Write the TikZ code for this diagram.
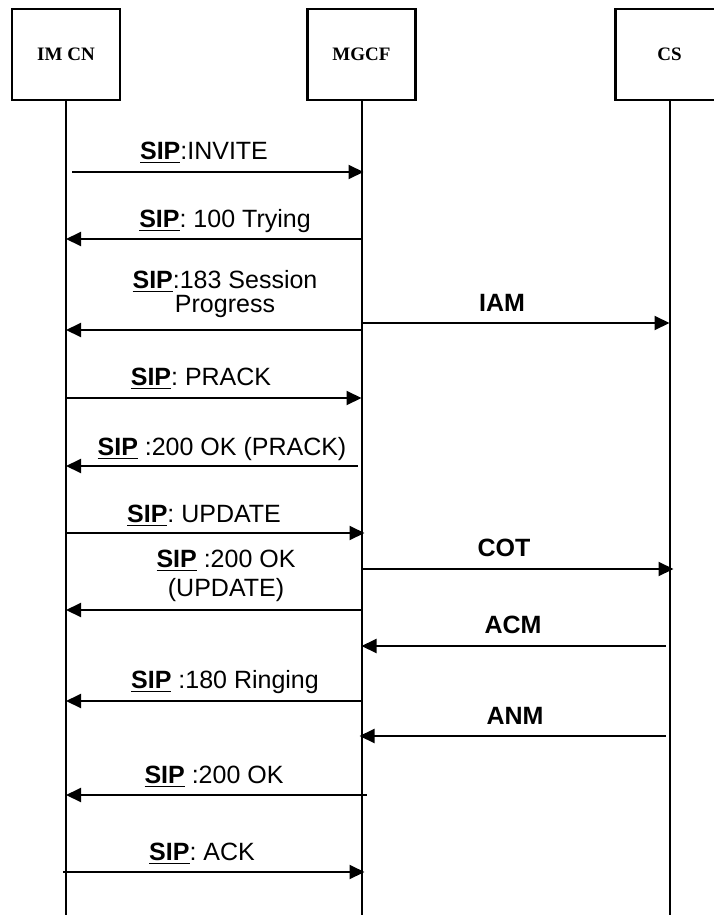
\documentclass[tikz,border=0pt]{standalone}
\usepackage{fontspec}
\setmainfont{Liberation Serif}
\setsansfont{Liberation Sans}
\usetikzlibrary{arrows.meta}
\newcommand{\sip}{\underline{\textbf{SIP}}}
\frenchspacing

\begin{document}
\begin{tikzpicture}[x=0.5pt, y=-0.5pt, >={Triangle[length=7.5pt, width=7pt]},
      ent/.style={draw, line width=1.2pt, minimum width=54pt, minimum height=45.5pt,
        font=\rmfamily\bfseries\fontsize{9.5}{11}\selectfont},
      life/.style={line width=1pt},
      msg/.style={->, line width=1pt},
      lbl/.style={anchor=base, inner sep=0pt, align=center, font=\sffamily\fontsize{12.5}{10}\selectfont},
      sig/.style={lbl, font=\sffamily\bfseries\fontsize{12.5}{10}\selectfont}]
    \useasboundingbox (0,0) rectangle (713,915);
    % entities and lifelines
    \node[ent] (imcn) at (66,54.5) {IM CN};
    \node[ent] (mgcf) at (361.5,54.5) {MGCF};
    \node[ent] (cs) at (669.5,54.5) {CS};
    \coordinate (bot) at (0,915);
    \draw[life] (imcn.south) -- (imcn |- bot);
    \draw[life] (mgcf.south) -- (mgcf |- bot);
    \draw[life] (cs.south) -- (cs |- bot);
    % message rows
    \coordinate (r1) at (0,172);
    \coordinate (r2) at (0,239);
    \coordinate (r3) at (0,330);
    \coordinate (r3b) at (0,323);
    \coordinate (r4) at (0,398);
    \coordinate (r5) at (0,466);
    \coordinate (r6) at (0,533);
    \coordinate (r7) at (0,610);
    \coordinate (r7b) at (0,569);
    \coordinate (r8) at (0,646);
    \coordinate (r9) at (0,701);
    \coordinate (r10) at (0,736);
    \coordinate (r11) at (0,795);
    \coordinate (r12) at (0,872);
    % labels (base of two-line labels = last line)
    \node[lbl] (invite) at (204,159) {\sip:INVITE};
    \node[lbl] (trying) at (225,227) {\sip: 100 Trying};
    \node[lbl] (prog) at (225,312) {\sip:183 Session\\Progress};
    \node[sig] (iam) at (502,311) {IAM};
    \node[lbl] (prack) at (201,385) {\sip: PRACK};
    \node[lbl] (okprack) at (222,455) {\sip\ :200 OK (PRACK)};
    \node[lbl] (update) at (204,522) {\sip: UPDATE};
    \node[lbl] (okupdate) at (226,596) {\sip\ :200 OK\\[2pt](UPDATE)};
    \node[sig] (cot) at (504,556) {COT};
    \node[sig] (acm) at (513,633) {ACM};
    \node[lbl] (ringing) at (225,688) {\sip\ :180 Ringing};
    \node[sig] (anm) at (515,724) {ANM};
    \node[lbl] (ok) at (214,783) {\sip\ :200 OK};
    \node[lbl] (ack) at (202,860) {\sip: ACK};
    % arrows
    \draw[msg] ([xshift=3pt]imcn |- r1) -- ([xshift=1pt]mgcf |- r1);
    \draw[msg] (mgcf |- r2) -- (imcn |- r2);
    \draw[msg] (mgcf |- r3) -- (imcn |- r3);
    \draw[msg] (mgcf |- r3b) -- (cs |- r3b);
    \draw[msg] (imcn |- r4) -- (mgcf |- r4);
    \draw[msg] ([xshift=-2pt]mgcf |- r5) -- (imcn |- r5);
    \draw[msg] (imcn |- r6) -- ([xshift=1.5pt]mgcf |- r6);
    \draw[msg] (mgcf |- r7) -- (imcn |- r7);
    \draw[msg] (mgcf |- r7b) -- ([xshift=2pt]cs |- r7b);
    \draw[msg] ([xshift=-2pt]cs |- r8) -- (mgcf |- r8);
    \draw[msg] (mgcf |- r9) -- (imcn |- r9);
    \draw[msg] ([xshift=-2pt]cs |- r10) -- ([xshift=-1pt]mgcf |- r10);
    \draw[msg] ([xshift=2.5pt]mgcf |- r11) -- (imcn |- r11);
    \draw[msg] ([xshift=-1.5pt]imcn |- r12) -- ([xshift=1.5pt]mgcf |- r12);
\end{tikzpicture}
\end{document}
